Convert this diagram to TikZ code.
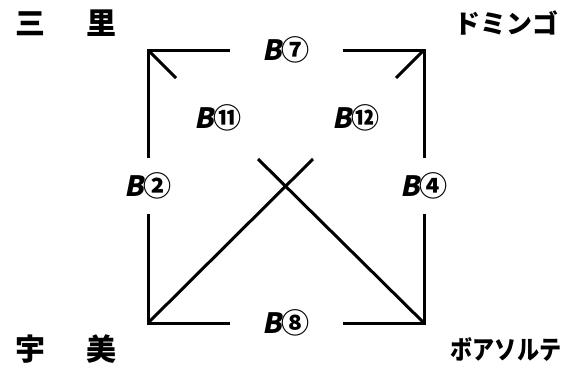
\documentclass[tikz,border=0pt]{standalone}
\usepackage{fontspec}
\newfontfamily\jp{Noto Sans CJK JP}
\newfontfamily\jpsl{Noto Sans CJK JP}[FakeSlant=0.2]
\newfontfamily\jpnarrow{Noto Sans CJK JP}[FakeStretch=0.85]
\newcommand\busname[1]{{\jpsl B}#1}
\begin{document}
\begin{tikzpicture}[x=1pt, y=-1pt, line width=3pt, line join=miter,
        place/.style={font=\jp\bfseries\fontsize{30}{30}\selectfont, inner sep=0pt},
        bus/.style={font=\jp\bfseries\fontsize{28}{28}\selectfont, inner sep=0pt, minimum width=110pt, minimum height=53pt}]
        \useasboundingbox (0,0) rectangle (571,367);
        % corners
        \coordinate (tl) at (148,50);
        \coordinate (tr) at (424,50);
        \coordinate (bl) at (148,323);
        \coordinate (br) at (424,323);
        \coordinate (t1) at (176,78);
        \coordinate (t2) at (396,78);
        \coordinate (d1) at (313,159);
        \coordinate (d2) at (258,159);
        % places
        \node[place] (sanri) at (66,23) {三\hspace{41pt}里};
        \node[place, font=\jp\bfseries\fontsize{26}{26}\selectfont] (domingo) at (506,23) {ドミンゴ};
        \node[place] (umi) at (66,349) {宇\hspace{41pt}美};
        \node[place, font=\jpnarrow\bfseries\fontsize{26}{26}\selectfont] (bois) at (506,349) {ボアソルテ};
        % buses
        \node[bus] (b7) at (286,50) {\busname{⑦}};
        \node[bus] (b2) at (148,186) {\busname{②}};
        \node[bus] (b4) at (424,186) {\busname{④}};
        \node[bus] (b8) at (286,323) {\busname{⑧}};
        \node[bus] (b11) at (218,118) {\busname{⑪}};
        \node[bus] (b12) at (356,118) {\busname{⑫}};
        \draw (b2) -- (tl) -- (b7);
        \draw (b7) -- (tr) -- (b4);
        \draw (b2) -- (bl) -- (b8);
        \draw (b8) -- (br) -- (b4);
        \draw (tl) -- (t1);
        \draw (tr) -- (t2);
        \draw (bl) -- (d1);
        \draw (br) -- (d2);
\end{tikzpicture}
\end{document}
